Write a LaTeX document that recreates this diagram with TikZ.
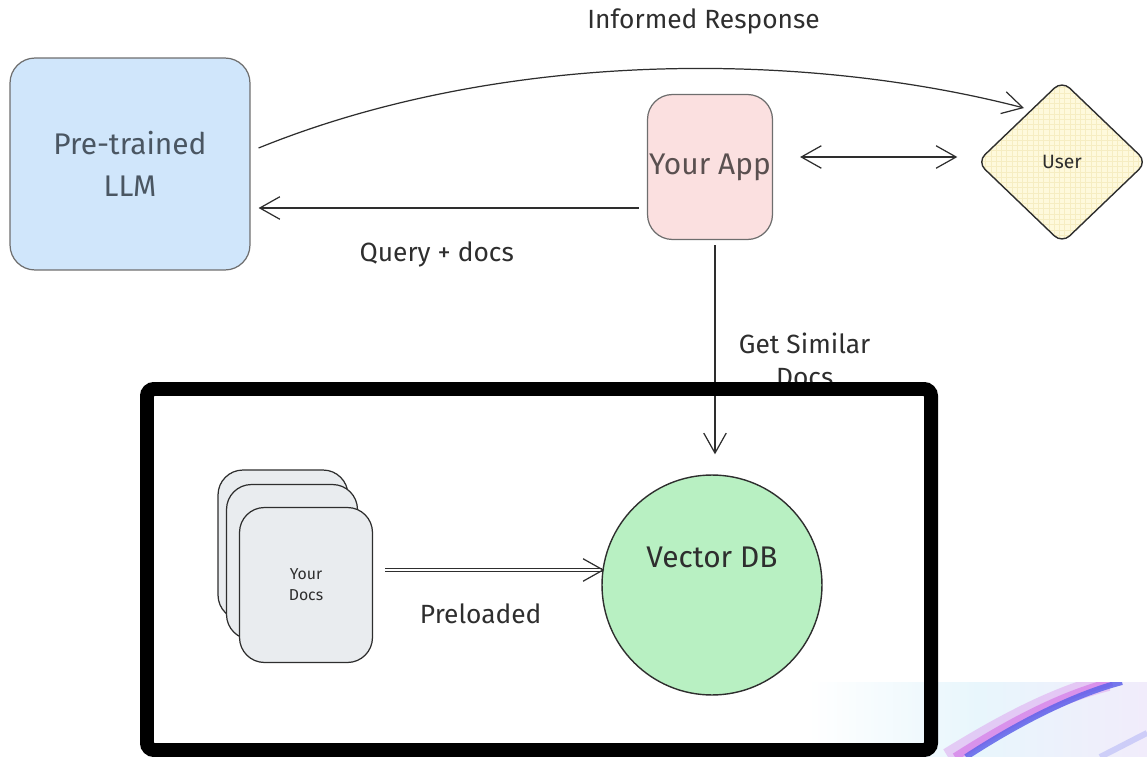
\documentclass[tikz,border=0pt]{standalone}
\usepackage{fontspec}
\setmainfont{Fira Sans}
\usetikzlibrary{arrows.meta,calc,positioning,shapes.geometric,patterns}
\definecolor{inkcol}{HTML}{2E2E2E}
\definecolor{boxline}{HTML}{6E6E6E}
\definecolor{llmfill}{HTML}{D0E6FB}
\definecolor{llmtext}{HTML}{4A5662}
\definecolor{appfill}{HTML}{FBE0E0}
\definecolor{apptext}{HTML}{5A5050}
\definecolor{userfill}{HTML}{FEF9DC}
\definecolor{usergrid}{HTML}{F6EDC2}
\definecolor{docfill}{HTML}{E9ECEF}
\definecolor{dbfill}{HTML}{B8F0C2}
\definecolor{swoopA}{HTML}{E8F6FC}
\definecolor{swoopB}{HTML}{F1ECFB}
\definecolor{streakA}{HTML}{5F63EA}
\definecolor{streakB}{HTML}{D67BE8}
\tikzset{
	box/.style={draw=boxline, line width=0.7pt, rounded corners=0.5cm, inner sep=0pt, align=center},
	arr/.style={draw=inkcol, line width=0.7pt},
	lbl/.style={font=\fontsize{15}{19}\selectfont, text=inkcol, align=center},
	>={Straight Barb[length=0.4cm,width=0.45cm,line width=0.7pt]}
}

\begin{document}
\begin{tikzpicture}[x=0.02cm,y=-0.02cm]
\useasboundingbox (0,0) rectangle (1147,757);
% swoosh in the corner
\begin{scope}
\clip (808,682) rectangle (1147,757);
\shade[left color=white, right color=swoopB, middle color=swoopA] (808,682) rectangle (1147,757);
\draw[streakB, line width=0.36cm, opacity=0.35] (948,757) .. controls (1000,725) and (1055,695) .. (1108,682);
\draw[streakB, line width=0.16cm, opacity=0.7] (955,757) .. controls (1005,725) and (1060,695) .. (1112,682);
\draw[streakA, line width=0.12cm, opacity=0.85] (966,757) .. controls (1015,725) and (1072,695) .. (1122,682);
\draw[streakA!45, line width=0.12cm, opacity=0.6] (1100,757) .. controls (1118,748) and (1133,740) .. (1147,733);
\end{scope}

\node[box, fill=llmfill, minimum width=4.8cm, minimum height=4.24cm, text=llmtext,
	font=\fontsize{17}{24}\selectfont] (llm) at (130,164) {Pre-trained\\LLM};
\node[box, fill=appfill, minimum width=2.5cm, minimum height=2.9cm, text=apptext,
	font=\fontsize{17}{20}\selectfont] (app) at (710,167) {Your App};
\node[diamond, draw=inkcol, line width=0.8pt, rounded corners=6pt, inner sep=0pt,
	minimum width=3.4cm, minimum height=3.26cm, preaction={fill=userfill},
	pattern=grid, pattern color=usergrid,
	font=\fontsize{11}{13}\selectfont, text=inkcol] (user) at (1062,162) {User};

\node[box, fill=docfill, draw=inkcol, minimum width=2.6cm, minimum height=3cm] (doc3) at (283,545) {};
\node[box, fill=docfill, draw=inkcol, minimum width=2.62cm, minimum height=3.1cm] (doc2) at (292,562) {};
\node[box, fill=docfill, draw=inkcol, minimum width=2.66cm, minimum height=3.1cm,
	font=\fontsize{9}{12}\selectfont, text=inkcol] (doc1) at (306,585) {Your\\Docs};

\node[circle, draw=inkcol, line width=0.8pt, fill=dbfill, minimum size=4.4cm, inner sep=0pt,
	label={[font=\fontsize{17}{20}\selectfont, text=inkcol, yshift=0.56cm]center:Vector DB}] (db) at (712,585) {};

% connectors
\draw[arr, ->] ($(llm.east)+(8,-16)$) .. controls (500,50) and (800,50) .. ($(user.center)+(-38,-54)$)
	node[lbl, pos=0.57, above=0.55cm] {Informed Response};
\draw[arr, ->] ($(app.west)+(-8,41)$) -- node[lbl, below=0.55cm, xshift=-0.24cm] {Query + docs} ($(llm.east)+(8,44)$);
\draw[arr, <->] ($(app.east)+(27,-10)$) -- ($(user.west)+(-19,-5)$);
\draw[arr, double=white, double distance=1.2pt, line width=0.5pt, ->] ($(doc1.east)+(12,-15)$) -- node[lbl, below=0.55cm, xshift=-0.28cm] {Preloaded} ($(db.west)+(3,-15)$);
\draw[arr, ->] ($(app.south)+(5,5)$) -- node[lbl, pos=0.55, right=0.35cm] {Get Similar\\Docs} ($(db.north)+(3,-20)$);

% frame
\draw[line width=0.28cm, rounded corners=4pt] (147,389) rectangle (931,750);
\end{tikzpicture}
\end{document}
